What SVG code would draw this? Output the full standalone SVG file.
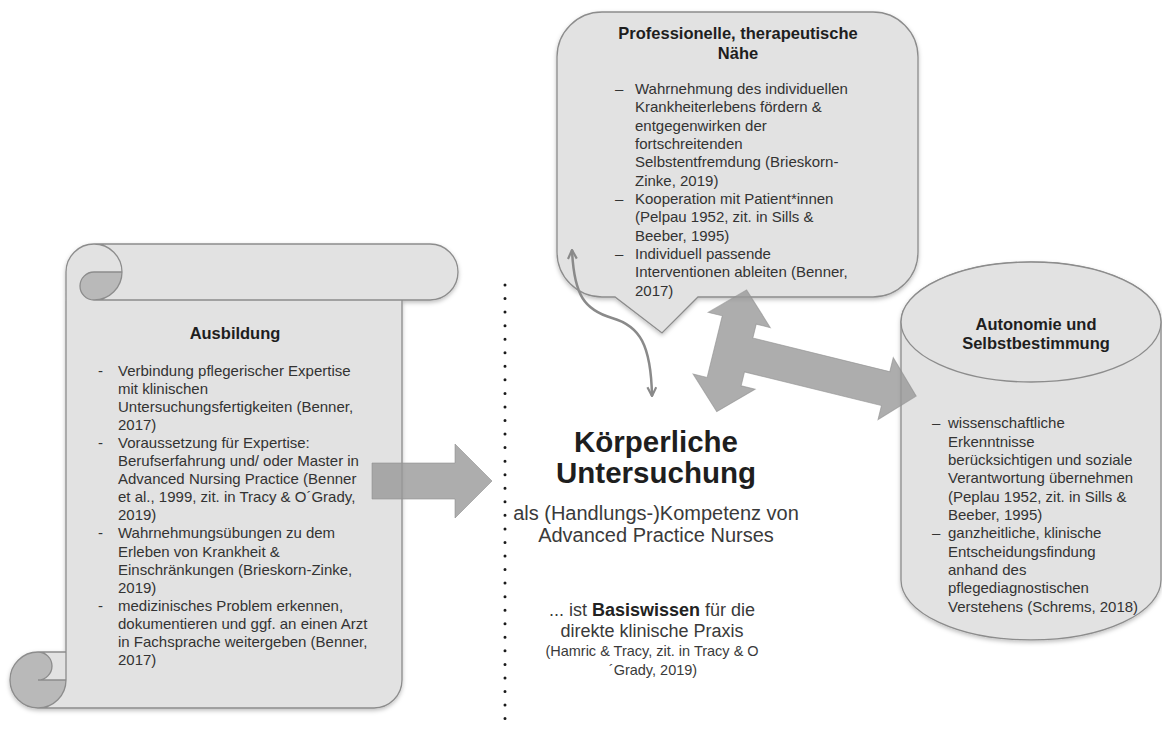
<svg xmlns="http://www.w3.org/2000/svg" width="1162" height="740" viewBox="0 0 1162 740">
<style>
.shape{fill:#e2e2e2;stroke:#8c8c8c;stroke-width:1.3}
.dark{fill:#b9b9b9;stroke:none}
.line{fill:none;stroke:#8c8c8c;stroke-width:1.3}
.big{fill:#999;fill-opacity:0.8;stroke:#8f8f8f;stroke-opacity:0.6;stroke-width:1}
.t{font-family:"Liberation Sans",Arial,sans-serif;font-size:15px;fill:#333}
.h{font-family:"Liberation Sans",Arial,sans-serif;font-weight:bold;fill:#1e1e1e}
.c{font-family:"Liberation Sans",Arial,sans-serif;fill:#3a3a3a;text-anchor:middle}
</style>
<defs>
<filter id="sh" x="-10%" y="-10%" width="120%" height="120%">
<feDropShadow dx="0" dy="2" stdDeviation="2" flood-color="#000" flood-opacity="0.25"/>
</filter>
<marker id="ah" viewBox="0 0 10 10" refX="9" refY="5" markerWidth="11" markerHeight="11" markerUnits="userSpaceOnUse" orient="auto-start-reverse">
<path d="M1,1 L9,5 L1,9" fill="none" stroke="#8a8a8a" stroke-width="2"/>
</marker>
</defs>
<rect width="1162" height="740" fill="#fff"/>

<g id="ausbildung" filter="url(#sh)">
<path class="shape" style="stroke:none" d="M38,708 A28,28 0 0 0 66,680 L38,680 A14,14 0 0 0 38,652 L66,652 L66,272 A28,28 0 0 1 94,244 L430,244 A28,28 0 0 1 430,300 L402,300 L402,680 A28,28 0 0 1 374,708 Z"/>
<path class="dark" d="M122,272 A28,28 0 0 1 94,300 A14,14 0 0 1 94,272 Z"/>
<path class="dark" d="M66,680 A28,28 0 1 1 38,652 A14,14 0 0 1 38,680 Z"/>
<path class="line" d="M66,652 L66,272 A28,28 0 0 1 94,244 L430,244 A28,28 0 0 1 430,300 L402,300 L402,680 A28,28 0 0 1 374,708 L38,708 A28,28 0 0 1 38,652 Z M94,244 A28,28 0 0 1 94,300 A14,14 0 0 1 94,272 L122,272 M402,300 L94,300 M38,652 A14,14 0 0 1 38,680 L66,680 M38,708 A28,28 0 0 0 66,680 L66,652"/>
</g>
<g id="ausbildung-text">
<text class="h" x="235" y="339" font-size="16.5" text-anchor="middle">Ausbildung</text>
<text class="t">
<tspan x="98" y="375.5">-</tspan><tspan x="118" y="375.5">Verbindung pflegerischer Expertise</tspan>
<tspan x="118" y="393.6">mit klinischen</tspan>
<tspan x="118" y="411.7">Untersuchungsfertigkeiten (Benner,</tspan>
<tspan x="118" y="429.8">2017)</tspan>
<tspan x="98" y="447.9">-</tspan><tspan x="118" y="447.9">Voraussetzung für Expertise:</tspan>
<tspan x="118" y="466">Berufserfahrung und/ oder Master in</tspan>
<tspan x="118" y="484.1">Advanced Nursing Practice (Benner</tspan>
<tspan x="118" y="502.2">et al., 1999, zit. in Tracy &amp; O´Grady,</tspan>
<tspan x="118" y="520.3">2019)</tspan>
<tspan x="98" y="538.4">-</tspan><tspan x="118" y="538.4">Wahrnehmungsübungen zu dem</tspan>
<tspan x="118" y="556.5">Erleben von Krankheit &amp;</tspan>
<tspan x="118" y="574.6">Einschränkungen (Brieskorn-Zinke,</tspan>
<tspan x="118" y="592.7">2019)</tspan>
<tspan x="98" y="610.8">-</tspan><tspan x="118" y="610.8">medizinisches Problem erkennen,</tspan>
<tspan x="118" y="628.9">dokumentieren und ggf. an einen Arzt</tspan>
<tspan x="118" y="647">in Fachsprache weitergeben (Benner,</tspan>
<tspan x="118" y="665.1">2017)</tspan>
</text>
</g>

<g id="naehe">
<path class="shape" filter="url(#sh)" d="M602,12 L873,12 A45,45 0 0 1 918,57 L918,252 A45,45 0 0 1 873,297 L698,297 L662,333 L615,297 L602,297 A45,45 0 0 1 557,252 L557,57 A45,45 0 0 1 602,12 Z"/>
<text class="h" font-size="16.5" text-anchor="middle"><tspan x="738" y="39.3">Professionelle, therapeutische</tspan><tspan x="738" y="59.3">Nähe</tspan></text>
<text class="t">
<tspan x="615" y="94">–</tspan><tspan x="635" y="94">Wahrnehmung des individuellen</tspan>
<tspan x="635" y="112.3">Krankheiterlebens fördern &amp;</tspan>
<tspan x="635" y="130.7">entgegenwirken der</tspan>
<tspan x="635" y="149">fortschreitenden</tspan>
<tspan x="635" y="167.3">Selbstentfremdung (Brieskorn-</tspan>
<tspan x="635" y="185.7">Zinke, 2019)</tspan>
<tspan x="615" y="204">–</tspan><tspan x="635" y="204">Kooperation mit Patient*innen</tspan>
<tspan x="635" y="222.3">(Pelpau 1952, zit. in Sills &amp;</tspan>
<tspan x="635" y="240.7">Beeber, 1995)</tspan>
<tspan x="615" y="259">–</tspan><tspan x="635" y="259">Individuell passende</tspan>
<tspan x="635" y="277.3">Interventionen ableiten (Benner,</tspan>
<tspan x="635" y="295.7">2017)</tspan>
</text>
</g>

<g id="autonomie">
<path class="shape" filter="url(#sh)" d="M901,322 L901,580 A130,60 0 0 0 1161,580 L1161,322 A130,60 0 0 0 901,322 Z"/>
<ellipse class="shape" cx="1031" cy="322" rx="130" ry="60"/>
<text class="h" font-size="16.5" text-anchor="middle"><tspan x="1036" y="330">Autonomie und</tspan><tspan x="1036" y="349.3">Selbstbestimmung</tspan></text>
<text class="t">
<tspan x="932" y="428.3">–</tspan><tspan x="948" y="428.3">wissenschaftliche</tspan>
<tspan x="948" y="446.6">Erkenntnisse</tspan>
<tspan x="948" y="465">berücksichtigen und soziale</tspan>
<tspan x="948" y="483.3">Verantwortung übernehmen</tspan>
<tspan x="948" y="501.6">(Peplau 1952, zit. in Sills &amp;</tspan>
<tspan x="948" y="520">Beeber, 1995)</tspan>
<tspan x="932" y="538.3">–</tspan><tspan x="948" y="538.3">ganzheitliche, klinische</tspan>
<tspan x="948" y="556.6">Entscheidungsfindung</tspan>
<tspan x="948" y="575">anhand des</tspan>
<tspan x="948" y="593.3">pflegediagnostischen</tspan>
<tspan x="948" y="611.6">Verstehens (Schrems, 2018)</tspan>
</text>
</g>

<g id="divider">
<line x1="505" y1="285" x2="505" y2="732" stroke="#1a1a1a" stroke-width="3" stroke-linecap="round" stroke-dasharray="0 13.55"/>
</g>

<g id="center">
<text class="h" font-size="29.5" text-anchor="middle" fill="#111"><tspan x="656" y="452">Körperliche</tspan><tspan x="656" y="483">Untersuchung</tspan></text>
<text class="c" font-size="20"><tspan x="656" y="520">als (Handlungs-)Kompetenz von</tspan><tspan x="656" y="541.7">Advanced Practice Nurses</tspan></text>
<text class="c" font-size="18"><tspan x="652" y="616">... ist <tspan font-weight="bold" fill="#222">Basiswissen</tspan> für die</tspan><tspan x="652" y="637">direkte klinische Praxis</tspan></text>
<text class="c" font-size="14.5"><tspan x="652" y="656">(Hamric &amp; Tracy, zit. in Tracy &amp; O</tspan><tspan x="653" y="675">´Grady, 2019)</tspan></text>
</g>

<g id="connectors">
<polygon class="big" points="372,463 455,463 455,444 492,481 455,518 455,499 372,499"/>
<polygon class="big" transform="translate(731.7,350.8) rotate(13.8)" points="0,-62.7 32,-31.7 17.5,-31.7 17.5,-17.5 158.5,-17.5 158.5,-32 190,0 158.5,32 158.5,17.5 17.5,17.5 17.5,31.7 32,31.7 0,62.7 -32,31.7 -17.5,31.7 -17.5,-31.7 -32,-31.7"/>
<path d="M572,250 C574,296 585,310 612,318 C640,326 651,345 652,396" fill="none" stroke="#8a8a8a" stroke-width="2.5" marker-start="url(#ah)" marker-end="url(#ah)"/>
</g>
</svg>
